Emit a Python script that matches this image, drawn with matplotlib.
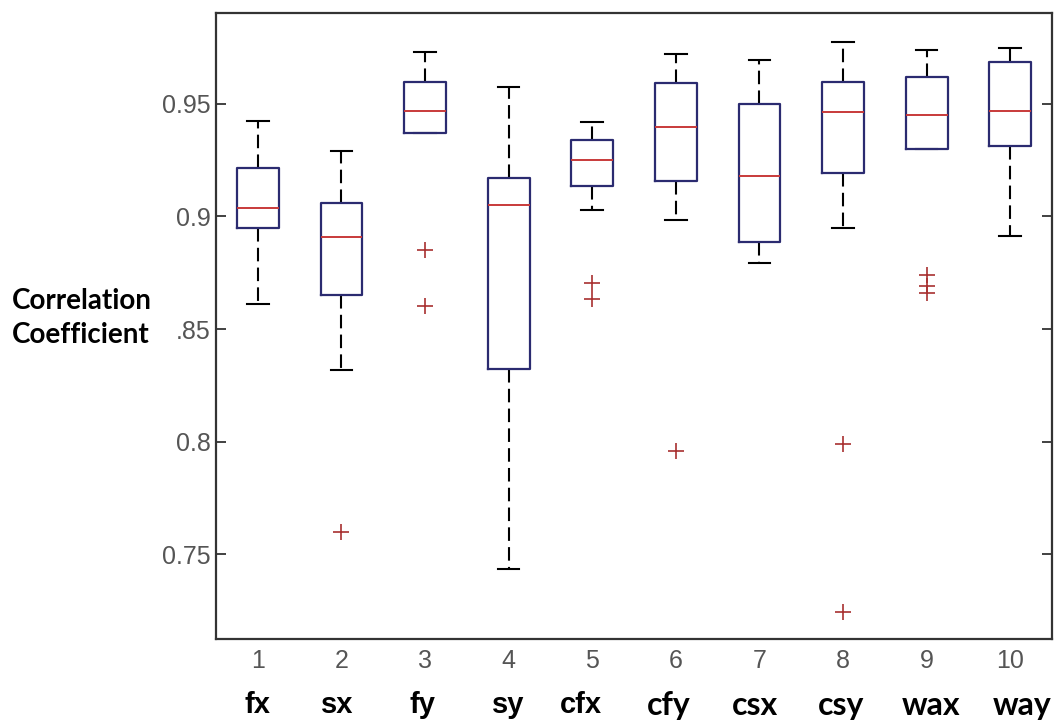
import matplotlib
matplotlib.use("Agg")
import matplotlib.pyplot as plt

# summary statistics
positions = [1, 2, 3, 4, 5, 6, 7, 8, 9, 10]
names = ["fx", "sx", "fy", "sy", "cfx", "cfy", "csx", "csy", "wax", "way"]
whis_hi = [0.9426, 0.9293, 0.9732, 0.9574, 0.9419, 0.9721, 0.9696, 0.9776, 0.9740, 0.9748]
q3 = [0.9214, 0.9059, 0.9599, 0.9170, 0.9341, 0.9592, 0.9499, 0.9598, 0.9619, 0.9685]
med = [0.9036, 0.8907, 0.9470, 0.9051, 0.9250, 0.9399, 0.9180, 0.9463, 0.9450, 0.9470]
q1 = [0.8949, 0.8651, 0.9370, 0.8324, 0.9137, 0.9156, 0.8885, 0.9192, 0.9299, 0.9313]
whis_lo = [0.8610, 0.8318, 0.9370, 0.7433, 0.9029, 0.8986, 0.8792, 0.8948, 0.9299, 0.8915]
outliers = [
    [],
    [0.7596],
    [0.8851, 0.8602],
    [],
    [0.8703, 0.8633],
    [0.7959],
    [],
    [0.7988, 0.7241],
    [0.8738, 0.8689, 0.8662],
    [],
]

# label layout (small nudges seen in the reference)
name_dx = [0.0, -0.05, -0.03, 0.0, -0.14, -0.09, -0.05, -0.02, 0.05, 0.14]
arial_names = 5

stats = []
for i in range(len(positions)):
    stats.append({
        "med": med[i], "q1": q1[i], "q3": q3[i],
        "whislo": whis_lo[i], "whishi": whis_hi[i],
        "fliers": outliers[i],
    })

fig = plt.figure(figsize=(10.55, 7.24), dpi=100)
ax = fig.add_axes([216 / 1055, 1 - 639.3 / 724, (1052 - 216) / 1055, (639.3 - 13.3) / 724])

box_c = "#2b2b70"
red_c = "#c83a3a"
ax.bxp(
    stats, positions=positions, widths=0.5, capwidths=0.26,
    boxprops=dict(color=box_c, linewidth=1.6, zorder=2.5),
    medianprops=dict(color=red_c, linewidth=1.4, zorder=2.6),
    whiskerprops=dict(color="black", linewidth=1.5, linestyle=(0, (6.5, 3))),
    capprops=dict(color="black", linewidth=1.5, zorder=2),
    flierprops=dict(marker="+", markeredgecolor="#a83030", markersize=11,
                    markeredgewidth=1.2, linestyle="none"),
)

ax.set_xlim(0.5, 10.5)
ax.set_ylim(0.7121, 0.9903)
ax.set_yticks([0.75, 0.8, 0.85, 0.9, 0.95])
ax.set_yticklabels(["0.75", "0.8", ".85", "0.9", "0.95"])
ax.set_xticks(positions)
ax.set_xticklabels([str(p) for p in positions])

for s in ax.spines.values():
    s.set_color("#333333")
    s.set_linewidth(1.6)

for lab in ax.get_xticklabels() + ax.get_yticklabels():
    lab.set_fontfamily("Liberation Sans")
    lab.set_fontsize(18)
    lab.set_color("#555555")

ax.tick_params(axis="y", direction="in", length=7, width=1.3, color="#333333",
               left=True, right=True, pad=4)
ax.tick_params(axis="x", length=0, pad=7)

for i, p in enumerate(positions):
    if i < arial_names:
        fam, fs = "Liberation Sans", 21
    else:
        fam, fs = "Lato", 23
    ax.text(p + name_dx[i], -0.105, names[i], transform=ax.get_xaxis_transform(),
            ha="center", va="center", fontsize=fs, fontweight="bold",
            family=fam, color="black")

fig.text(12 / 1055, 1 - 318 / 724, "Correlation\nCoefficient", ha="left", va="center",
         fontsize=20, fontweight="bold", family="Lato", linespacing=1.4)

fig.savefig("out.png", dpi=100, facecolor="white")
